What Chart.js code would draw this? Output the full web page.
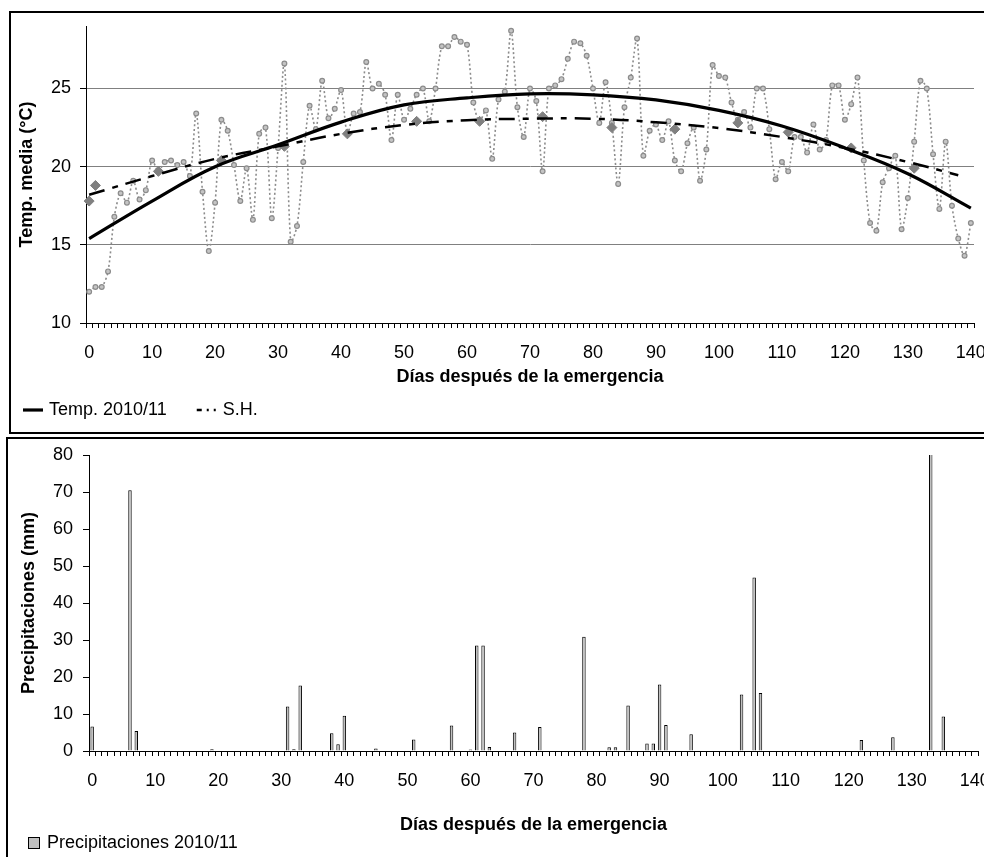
<!DOCTYPE html>
<html>
<head>
<meta charset="utf-8">
<script src="https://cdn.jsdelivr.net/npm/chart.js@4.4.1/dist/chart.umd.min.js"></script>
<style>
  html, body { margin: 0; padding: 0; background: #fff; }
  body { width: 984px; height: 857px; overflow: hidden; position: relative; }
  .panel { position: absolute; border: 2px solid #000; background: #fff; }
  #p1 { left: 9px; top: 11px; width: 1010px; height: 419px; }
  #p2 { left: 6px; top: 437px; width: 1010px; height: 430px; }
</style>
</head>
<body>
<div class="panel" id="p1"><canvas id="tempChart"></canvas></div>
<div class="panel" id="p2"><canvas id="rainChart"></canvas></div>
<script>
// days after emergence, 0..140
const days = Array.from({ length: 141 }, (_, i) => String(i));

// daily mean temperature 2010/11 (°C)
const tempDaily = [
  12.0, 12.3, 12.3, 13.3, 16.8, 18.3, 17.7, 19.1, 17.9, 18.5,
  20.4, 19.7, 20.3, 20.4, 20.1, 20.3, 19.4, 23.4, 18.4, 14.6,
  17.7, 23.0, 22.3, 20.1, 17.8, 19.9, 16.6, 22.1, 22.5, 16.7,
  21.2, 26.6, 15.2, 16.2, 20.3, 23.9, 22.4, 25.5, 23.1, 23.7,
  24.9, 22.1, 23.4, 23.5, 26.7, 25.0, 25.3, 24.6, 21.7, 24.6,
  23.0, 23.7, 24.6, 25.0, 22.9, 25.0, 27.7, 27.7, 28.3, 28.0,
  27.8, 24.1, 22.9, 23.6, 20.5, 24.3, 24.8, 28.7, 23.8, 21.9,
  25.0, 24.2, 19.7, 25.0, 25.2, 25.6, 26.9, 28.0, 27.9, 27.1,
  25.0, 22.8, 25.4, 22.8, 18.9, 23.8, 25.7, 28.2, 20.7, 22.3,
  22.7, 21.7, 22.9, 20.4, 19.7, 21.5, 22.5, 19.1, 21.1, 26.5,
  25.8, 25.7, 24.1, 23.0, 23.5, 22.5, 25.0, 25.0, 22.4, 19.2,
  20.3, 19.7, 21.9, 21.9, 20.9, 22.7, 21.1, 21.7, 25.2, 25.2,
  23.0, 24.0, 25.7, 20.4, 16.4, 15.9, 19.0, 19.9, 20.7, 16.0,
  18.0, 21.6, 25.5, 25.0, 20.8, 17.3, 21.6, 17.5, 15.4, 14.3,
  16.4
];

// S.H. (historical series) ten-day means
const shDecadeDays = [0, 1, 11, 21, 31, 41, 52, 62, 72, 83, 93, 103, 111, 121, 131];
const shDecadeTemp = [17.8, 18.8, 19.7, 20.4, 21.3, 22.1, 22.9, 22.9, 23.2, 22.5, 22.4, 22.8, 22.2, 21.2, 19.9];

// trend curves, read every 10 days
const tempTrendDays = [0, 10, 20, 30, 40, 50, 60, 70, 80, 90, 100, 110, 120, 130, 140];
const tempTrendValues = [15.4, 17.8, 20.0, 21.4, 22.85, 23.95, 24.4, 24.66, 24.6, 24.27, 23.6, 22.6, 21.2, 19.55, 17.35];
const shTrendDays = [0, 10, 20, 30, 40, 50, 60, 70, 80, 90, 100, 110, 120, 130, 138];
const shTrendValues = [18.2, 19.4, 20.5, 21.3, 22.1, 22.67, 22.97, 23.07, 23.07, 22.84, 22.47, 21.9, 21.2, 20.3, 19.45];

// rainfall 2010/11 (mm), only days with rain
const rainDays = [0, 6, 7, 19, 31, 32, 33, 38, 39, 40, 45, 51, 57, 60, 61, 62, 63, 67, 71, 78,
  82, 83, 85, 88, 89, 90, 91, 95, 103, 105, 106, 122, 127, 133, 135];
const rainMm = [6.6, 70.5, 5.4, 0.45, 12.0, 0.45, 17.7, 4.8, 1.8, 9.5, 0.7, 3.1, 6.9, 0.4, 28.5, 28.5, 1.1, 5.0, 6.5, 30.9,
  1.0, 1.0, 12.3, 2.0, 2.0, 18.0, 7.0, 4.5, 15.3, 46.9, 15.7, 3.0, 3.7, 88, 9.3];

const tempTicks = [10, 15, 20, 25];

function sparse(dayList, values) {
  const out = days.map(() => null);
  dayList.forEach((d, i) => { out[d] = values[i]; });
  return out;
}

Chart.defaults.font.family = '"Liberation Sans", Arial, sans-serif';
Chart.defaults.font.size = 18;
Chart.defaults.color = '#000';
Chart.defaults.animation = false;

// legend drawn at a fixed spot like the original
const fixedLegend = {
  id: 'fixedLegend',
  afterDraw(chart, args, opts) {
    const ctx = chart.ctx;
    let x = opts.x;
    const y = opts.y;
    ctx.save();
    ctx.font = '18px "Liberation Sans", Arial, sans-serif';
    ctx.textBaseline = 'middle';
    for (const i of opts.items) {
      const ds = chart.data.datasets[i];
      if (opts.box) {
        ctx.fillStyle = ds.backgroundColor;
        ctx.fillRect(x, y - 6, 12, 12);
        ctx.strokeStyle = ds.borderColor;
        ctx.lineWidth = 1;
        ctx.strokeRect(x + 0.5, y - 5.5, 11, 11);
        x += 12;
      } else {
        ctx.strokeStyle = ds.borderColor;
        ctx.lineWidth = ds.borderWidth;
        ctx.setLineDash(ds.legendDash || ds.borderDash || []);
        ctx.beginPath();
        ctx.moveTo(x, y);
        ctx.lineTo(x + opts.symbol, y);
        ctx.stroke();
        ctx.setLineDash([]);
        x += opts.symbol;
      }
      x += opts.textGap;
      ctx.fillStyle = '#000';
      ctx.fillText(ds.label, x, y);
      x += ctx.measureText(ds.label).width + opts.itemGap;
    }
    ctx.restore();
  }
};

function noPad(s) {
  s.paddingTop = 0; s.paddingBottom = 0; s.paddingLeft = 0; s.paddingRight = 0;
}

new Chart(document.getElementById('tempChart'), {
  type: 'line',
  plugins: [fixedLegend],
  data: {
    labels: days,
    datasets: [
      {
        label: 'Temp. 2010/11',
        data: sparse(tempTrendDays, tempTrendValues),
        borderColor: '#000', borderWidth: 3.2,
        pointRadius: 0, spanGaps: true, tension: 0.4
      },
      {
        label: 'S.H.',
        data: sparse(shTrendDays, shTrendValues),
        borderColor: '#000', borderWidth: 2.5,
        borderDash: [16, 8, 6, 8],
        legendDash: [5, 5, 2, 5, 2, 20],
        pointRadius: 0, spanGaps: true, tension: 0.4
      },
      {
        label: 'S.H. décadas',
        data: sparse(shDecadeDays, shDecadeTemp),
        showLine: false,
        pointStyle: 'rectRot', pointRadius: 5,
        backgroundColor: '#808080', borderColor: '#808080', borderWidth: 1
      },
      {
        label: 'Temp. diaria',
        data: tempDaily,
        borderColor: '#8c8c8c', borderWidth: 1.6, borderDash: [2, 2.5],
        tension: 0.3,
        pointRadius: 2.4, pointBackgroundColor: '#c4c4c4',
        pointBorderColor: '#8c8c8c', pointBorderWidth: 1.2
      }
    ]
  },
  options: {
    responsive: true,
    maintainAspectRatio: false,
    layout: { padding: { top: 13, right: 47, bottom: 44, left: 0 } },
    plugins: {
      legend: { display: false },
      tooltip: { enabled: false },
      fixedLegend: { x: 12, y: 397, symbol: 20, textGap: 6, itemGap: 30, items: [0, 1] }
    },
    scales: {
      x: {
        offset: true,
        grid: { offset: true, drawOnChartArea: false, tickLength: 5, color: '#000', tickColor: '#000' },
        border: { color: '#000', width: 1 },
        ticks: { autoSkip: false, maxRotation: 0, minRotation: 0, padding: 14,
          callback: (v, i) => (i % 10 === 0 ? days[i] : '') },
        title: { display: true, text: 'Días después de la emergencia', font: { weight: 'bold', size: 18 }, padding: 0 },
        afterFit: s => { s.height = 65; noPad(s); }
      },
      y: {
        min: 10, max: 29,
        afterBuildTicks: s => { s.ticks = tempTicks.map(v => ({ value: v })); },
        grid: {
          color: c => (c.tick && c.tick.value === 10 ? 'rgba(0,0,0,0)' : '#808080'),
          tickColor: '#000', tickLength: 6
        },
        border: { color: '#000', width: 1 },
        ticks: { padding: 9 },
        title: { display: true, text: 'Temp. media (°C)', font: { weight: 'bold', size: 18 }, padding: { top: 5, bottom: 0 } },
        afterFit: s => { s.width = 75; noPad(s); }
      }
    }
  }
});

new Chart(document.getElementById('rainChart'), {
  type: 'bar',
  plugins: [fixedLegend],
  data: {
    labels: days,
    datasets: [{
      label: 'Precipitaciones 2010/11',
      data: sparse(rainDays, rainMm),
      backgroundColor: '#c0c0c0',
      borderColor: '#000',
      borderWidth: 1,
      barPercentage: 0.55,
      categoryPercentage: 1.0
    }]
  },
  options: {
    responsive: true,
    maintainAspectRatio: false,
    layout: { padding: { top: 16, right: 40, bottom: 33, left: 0 } },
    plugins: {
      legend: { display: false },
      tooltip: { enabled: false },
      fixedLegend: { x: 20, y: 404, box: true, textGap: 7, itemGap: 20, items: [0] }
    },
    scales: {
      x: {
        offset: true,
        grid: { offset: true, drawOnChartArea: false, tickLength: 5, color: '#000', tickColor: '#000' },
        border: { color: '#000', width: 1 },
        ticks: { autoSkip: false, maxRotation: 0, minRotation: 0, padding: 14,
          callback: (v, i) => (i % 10 === 0 ? days[i] : '') },
        title: { display: true, text: 'Días después de la emergencia', font: { weight: 'bold', size: 18 }, padding: 0 },
        afterFit: s => { s.height = 85; noPad(s); }
      },
      y: {
        min: 0, max: 80,
        ticks: { stepSize: 10, padding: 10 },
        grid: { drawOnChartArea: false, tickColor: '#000', tickLength: 6 },
        border: { color: '#000', width: 1 },
        title: { display: true, text: 'Precipitaciones (mm)', font: { weight: 'bold', size: 18 }, padding: { top: 10, bottom: 0 } },
        afterFit: s => { s.width = 81; noPad(s); }
      }
    }
  }
});
</script>
</body>
</html>
